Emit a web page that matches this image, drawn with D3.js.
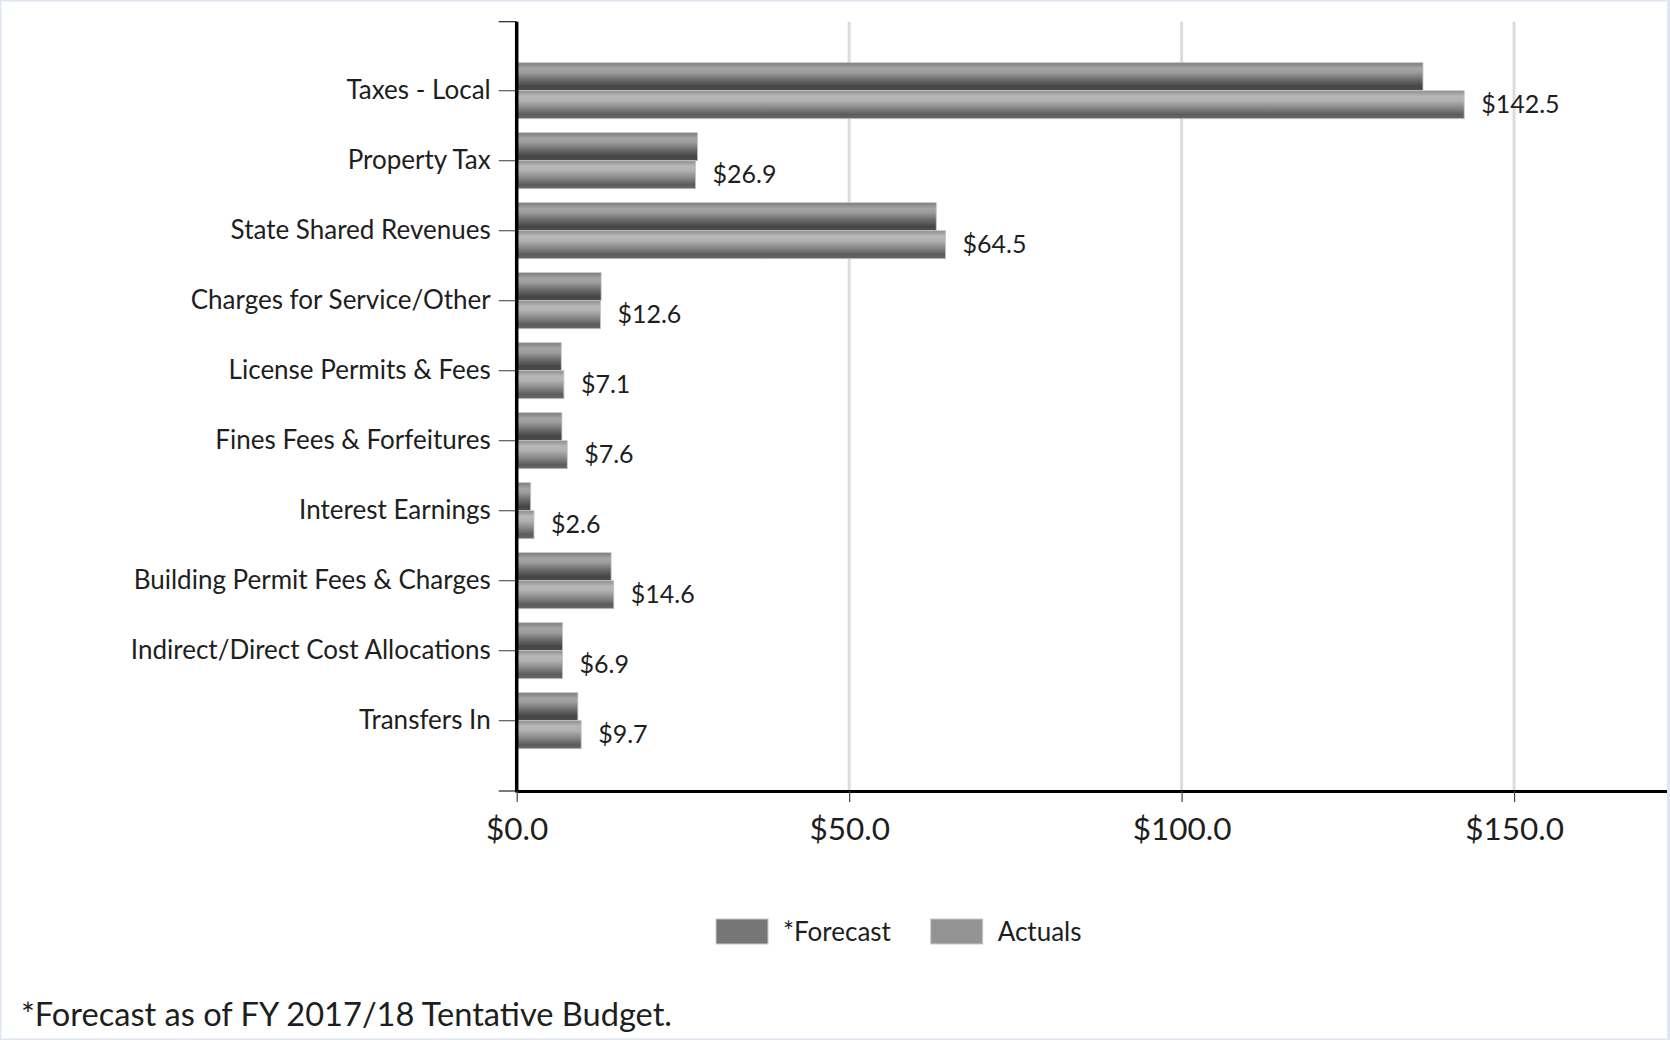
<!DOCTYPE html>
<html>
<head>
<meta charset="utf-8">
<script src="https://cdn.jsdelivr.net/npm/d3@7"></script>
<style>
  html, body { margin: 0; padding: 0; background: #fff; }
  svg { display: block; font-family: Lato, "Open Sans", sans-serif; }
</style>
</head>
<body>
<svg id="chart" width="1670" height="1040"></svg>
<script>
// General fund revenue sources (millions of dollars)
const categories = [
  "Taxes - Local",
  "Property Tax",
  "State Shared Revenues",
  "Charges for Service/Other",
  "License Permits & Fees",
  "Fines Fees & Forfeitures",
  "Interest Earnings",
  "Building Permit Fees & Charges",
  "Indirect/Direct Cost Allocations",
  "Transfers In"
];
const forecast = [136.3, 27.2, 63.1, 12.7, 6.7, 6.8, 2.1, 14.2, 6.9, 9.2];
const actuals  = [142.5, 26.9, 64.5, 12.6, 7.1, 7.6, 2.6, 14.6, 6.9, 9.7];
const seriesNames = ["*Forecast", "Actuals"];
const xTicks = [0, 50, 100, 150];
const footnote = "*Forecast as of FY 2017/18 Tentative Budget.";

const svg = d3.select("#chart");
const W = 1670, H = 1040;

svg.append("rect").attr("width", W).attr("height", H).attr("fill", "#fff");

// plot frame
const plotL = 516.7, plotR = 1667, plotT = 21.7, plotB = 791;

const x = d3.scaleLinear().domain([0, 173]).range([plotL, plotR]);
const y = d3.scaleBand().domain(categories).range([55.7, 755.7]).paddingInner(0).paddingOuter(0);
const sub = d3.scaleBand().domain(seriesNames).range([7, 63]);

const fmt = v => "$" + d3.format(".1f")(v);

// bar shading
const defs = svg.append("defs");
function grad(id, stops) {
  const g = defs.append("linearGradient").attr("id", id)
    .attr("x1", 0).attr("y1", 0).attr("x2", 0).attr("y2", 1);
  stops.forEach(([o, c]) => g.append("stop").attr("offset", o).attr("stop-color", c));
}
grad("gForecast", [[0, "#7c7c7c"], [0.2, "#a4a4a4"], [0.35, "#9c9c9c"], [0.6, "#6c6c6c"], [0.85, "#454545"], [1, "#4c4c4c"]]);
grad("gActuals",  [[0, "#8e8e8e"], [0.2, "#b8b8b8"], [0.35, "#b2b2b2"], [0.6, "#8a8a8a"], [0.85, "#5c5c5c"], [1, "#686868"]]);
const fills = { "*Forecast": "url(#gForecast)", "Actuals": "url(#gActuals)" };
const swatch = { "*Forecast": "#767676", "Actuals": "#939393" };

// vertical gridlines
svg.append("g").selectAll("line").data(xTicks.filter(t => t > 0)).join("line")
  .attr("x1", d => x(d)).attr("x2", d => x(d))
  .attr("y1", plotT).attr("y2", plotB)
  .attr("stroke", "#dcdcdc").attr("stroke-width", 3);

// bars
const rows = categories.map((c, i) => ({ cat: c, vals: [
  { s: "*Forecast", v: forecast[i] },
  { s: "Actuals", v: actuals[i] }
]}));

const grp = svg.append("g").selectAll("g").data(rows).join("g")
  .attr("transform", d => `translate(0,${y(d.cat)})`);
grp.selectAll("rect").data(d => d.vals).join("rect")
  .attr("x", x(0))
  .attr("y", d => sub(d.s))
  .attr("width", d => x(d.v) - x(0))
  .attr("height", sub.bandwidth())
  .attr("fill", d => fills[d.s])
  .attr("stroke", "#c4c4c4").attr("stroke-width", 0.8);

// value labels on actuals
grp.append("text")
  .attr("x", (d, i) => x(actuals[i]) + 17)
  .attr("y", sub("Actuals") + sub.bandwidth() / 2)
  .attr("dy", "0.35em")
  .attr("font-size", 25)
  .attr("fill", "#1e1e1e")
  .text((d, i) => fmt(actuals[i]));

// y axis with category labels
const yAxis = d3.axisLeft(y).tickSize(18).tickPadding(8).tickSizeOuter(0);
const gy = svg.append("g").attr("transform", `translate(${plotL},0)`).call(yAxis);
gy.select(".domain").remove();
gy.selectAll(".tick line").attr("stroke", "#595959").attr("stroke-width", 1.2);
gy.selectAll(".tick text").attr("font-size", 26).attr("fill", "#1e1e1e").attr("font-family", "Lato, sans-serif");
// end ticks of the category axis
svg.append("g").selectAll("line").data([plotT, plotB]).join("line")
  .attr("x1", plotL - 18).attr("x2", plotL).attr("y1", d => d).attr("y2", d => d)
  .attr("stroke", "#222").attr("stroke-width", 1.2);
svg.append("line").attr("x1", plotL).attr("x2", plotL).attr("y1", plotT).attr("y2", plotB + 1.5)
  .attr("stroke", "#000").attr("stroke-width", 3.5);

// x axis
const xAxis = d3.axisBottom(x).tickValues(xTicks).tickFormat(fmt).tickSize(11).tickPadding(16).tickSizeOuter(0);
const gx = svg.append("g").attr("transform", `translate(0,${plotB})`).call(xAxis);
gx.select(".domain").attr("stroke", "#000").attr("stroke-width", 3);
gx.selectAll(".tick line").attr("stroke", "#444").attr("stroke-width", 1.2);
gx.selectAll(".tick text").attr("font-size", 31.5).attr("fill", "#1e1e1e").attr("font-family", "Lato, sans-serif");

// legend
const legend = svg.append("g").attr("transform", "translate(716,919)");
const lx = { "*Forecast": 0, "Actuals": 214.7 };
seriesNames.forEach(s => {
  const g = legend.append("g").attr("transform", `translate(${lx[s]},0)`);
  g.append("rect").attr("width", 52).attr("height", 25).attr("fill", swatch[s])
    .attr("stroke", "#c8c8c8").attr("stroke-width", 1);
  g.append("text").attr("x", 67).attr("y", 12.5).attr("dy", "0.35em")
    .attr("font-size", 26).attr("fill", "#1e1e1e").text(s);
});

// footnote
svg.append("text").attr("x", 21).attr("y", 1015).attr("dy", "0.35em")
  .attr("font-size", 32.6).attr("fill", "#1e1e1e").text(footnote);

// outer frame
svg.append("rect").attr("x", 0.75).attr("y", 0.75).attr("width", W - 2.5).attr("height", H - 1.5)
  .attr("fill", "none").attr("stroke", "#dde6f2").attr("stroke-width", 1.5);
svg.append("line").attr("x1", 1668.5).attr("x2", 1668.5).attr("y1", 0).attr("y2", H)
  .attr("stroke", "#dde6f2").attr("stroke-width", 3);
</script>
</body>
</html>
